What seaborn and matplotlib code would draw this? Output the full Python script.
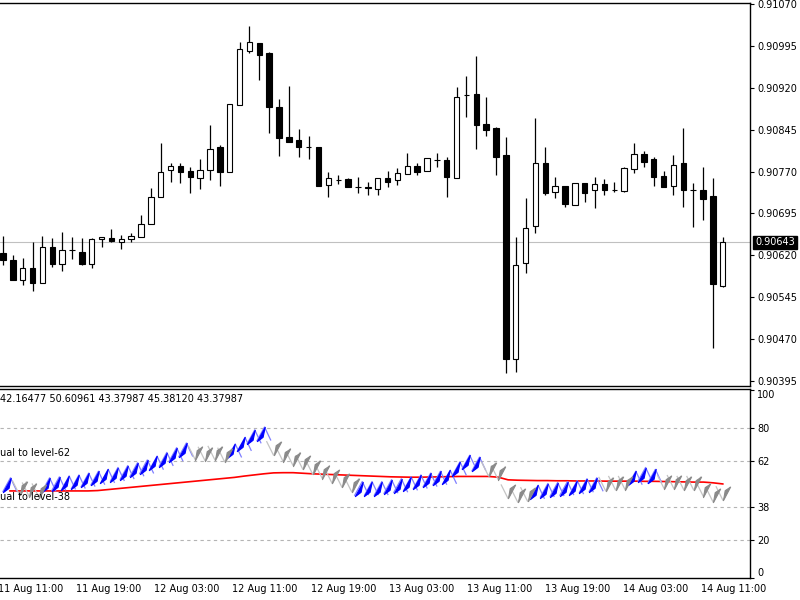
import matplotlib

matplotlib.use("Agg")
import matplotlib.pyplot as plt
import matplotlib.transforms as mtransforms
from matplotlib.path import Path
import numpy as np
import pandas as pd
import seaborn as sns

sns.set_style("white")
plt.rcParams["font.family"] = ["DejaVu Sans"]

# hourly candles, 11 Aug 12:00 .. 14 Aug 13:00
opens = [0.90624, 0.90612, 0.90576, 0.90597, 0.90571, 0.90635, 0.90605, 0.90630, 0.90626, 0.90605,
         0.90649, 0.90651, 0.90643, 0.90649, 0.90653, 0.90676, 0.90725, 0.90773, 0.90780, 0.90771,
         0.90759, 0.90773, 0.90814, 0.90769, 0.90889, 0.90986, 0.91000, 0.90982, 0.90886, 0.90832,
         0.90827, 0.90814, 0.90814, 0.90746, 0.90755, 0.90757, 0.90742, 0.90742, 0.90739, 0.90759,
         0.90755, 0.90766, 0.90780, 0.90771, 0.90791, 0.90791, 0.90759, 0.90907, 0.90909, 0.90855,
         0.90848, 0.90800, 0.90435, 0.90606, 0.90673, 0.90785, 0.90733, 0.90744, 0.90710, 0.90750,
         0.90737, 0.90748, 0.90737, 0.90735, 0.90775, 0.90801, 0.90793, 0.90762, 0.90744, 0.90785,
         0.90737, 0.90737, 0.90727, 0.90565]
highs = [0.90655, 0.90621, 0.90615, 0.90644, 0.90655, 0.90651, 0.90662, 0.90653, 0.90651, 0.90651,
         0.90653, 0.90667, 0.90657, 0.90660, 0.90692, 0.90741, 0.90821, 0.90785, 0.90785, 0.90778,
         0.90793, 0.90853, 0.90818, 0.90891, 0.91002, 0.91031, 0.91000, 0.90984, 0.90900, 0.90923,
         0.90846, 0.90834, 0.90814, 0.90769, 0.90764, 0.90759, 0.90760, 0.90751, 0.90759, 0.90771,
         0.90776, 0.90803, 0.90785, 0.90794, 0.90803, 0.90796, 0.90921, 0.90941, 0.90977, 0.90904,
         0.90850, 0.90832, 0.90653, 0.90723, 0.90866, 0.90814, 0.90760, 0.90744, 0.90750, 0.90750,
         0.90760, 0.90757, 0.90751, 0.90778, 0.90821, 0.90807, 0.90796, 0.90771, 0.90800, 0.90848,
         0.90750, 0.90778, 0.90759, 0.90653]
lows = [0.90603, 0.90576, 0.90567, 0.90556, 0.90571, 0.90599, 0.90592, 0.90614, 0.90603, 0.90597,
        0.90635, 0.90643, 0.90631, 0.90643, 0.90653, 0.90676, 0.90725, 0.90751, 0.90750, 0.90732,
        0.90739, 0.90755, 0.90744, 0.90769, 0.90889, 0.90982, 0.90934, 0.90839, 0.90798, 0.90823,
        0.90796, 0.90793, 0.90744, 0.90725, 0.90748, 0.90742, 0.90732, 0.90728, 0.90728, 0.90742,
        0.90746, 0.90766, 0.90764, 0.90771, 0.90778, 0.90725, 0.90759, 0.90868, 0.90810, 0.90834,
        0.90764, 0.90409, 0.90411, 0.90588, 0.90660, 0.90728, 0.90723, 0.90707, 0.90710, 0.90716,
        0.90705, 0.90728, 0.90733, 0.90733, 0.90767, 0.90778, 0.90744, 0.90742, 0.90728, 0.90707,
        0.90671, 0.90683, 0.90454, 0.90563]
closes = [0.90612, 0.90576, 0.90597, 0.90571, 0.90635, 0.90605, 0.90630, 0.90630, 0.90605, 0.90649,
          0.90653, 0.90646, 0.90649, 0.90655, 0.90676, 0.90725, 0.90769, 0.90780, 0.90769, 0.90760,
          0.90773, 0.90810, 0.90769, 0.90891, 0.90989, 0.91002, 0.90979, 0.90886, 0.90830, 0.90823,
          0.90814, 0.90814, 0.90744, 0.90759, 0.90755, 0.90742, 0.90742, 0.90741, 0.90759, 0.90751,
          0.90767, 0.90780, 0.90769, 0.90794, 0.90791, 0.90760, 0.90904, 0.90907, 0.90853, 0.90844,
          0.90796, 0.90435, 0.90603, 0.90669, 0.90785, 0.90732, 0.90744, 0.90712, 0.90750, 0.90732,
          0.90748, 0.90737, 0.90737, 0.90776, 0.90801, 0.90787, 0.90760, 0.90742, 0.90782, 0.90737,
          0.90737, 0.90721, 0.90569, 0.90643]
current_price = 0.90643
price_ticks = [0.91070, 0.90995, 0.90920, 0.90845, 0.90770, 0.90695, 0.90620, 0.90545, 0.90470, 0.90395]

# indicator window
osc = [49.5, 48, 47, 46.5, 49.5, 50, 50.5, 51, 52, 53,
       54, 55, 56, 57.5, 59, 61, 63, 65.5, 68, 66.5,
       66, 66.5, 65.5, 67.5, 71, 75, 76.5, 69, 65.5, 63.5,
       61.5, 59, 56.5, 54, 52, 49.5, 47.5, 47.5, 47.5, 48.5,
       49, 50, 51, 52, 53, 53.5, 58, 61.5, 60.5, 58,
       56, 46, 44, 44.5, 45.5, 46.5, 47, 47.5, 48, 49,
       49.5, 50, 50.5, 50.5, 53, 55, 54, 51, 51, 50.5,
       50.5, 47, 44, 45]
osc_dir = (["up"] + ["down"] * 3 + ["up"] * 15 + ["down"] * 4 + ["up"] * 4 + ["down"] * 9
           + ["up"] * 13 + ["down"] * 5 + ["up"] * 7 + ["down"] * 3 + ["up"] * 3 + ["down"] * 7)
signal = [46.3, 46.3, 46.3, 46.3, 46.3, 46.3, 46.3, 46.3, 46.3, 46.5,
          47, 47.5, 48, 48.5, 49, 49.5, 50, 50.5, 51, 51.5,
          52, 52.5, 53, 53.5, 54.2, 54.8, 55.4, 55.9, 56, 56,
          55.7, 55.4, 55.2, 55, 54.8, 54.6, 54.4, 54.2, 54, 53.8,
          53.7, 53.6, 53.6, 53.7, 53.8, 53.9, 54, 54, 54, 54,
          53.6, 52.2, 52, 51.9, 51.8, 51.8, 51.7, 51.7, 51.6, 51.6,
          51.6, 51.5, 51.5, 51.5, 51.5, 51.4, 51.4, 51.3, 51.2, 51.1,
          51, 51, 50.6, 50]
levels = [80, 62, 38, 20]
osc_ticks = [0, 20, 38, 62, 80, 100]
header = "42.16477 50.60961 43.37987 45.38120 43.37987"

time_labels = ["11 Aug 11:00", "11 Aug 19:00", "12 Aug 03:00", "12 Aug 11:00", "12 Aug 19:00",
               "13 Aug 03:00", "13 Aug 11:00", "13 Aug 19:00", "14 Aug 03:00", "14 Aug 11:00"]
time_bars = [-1, 7, 15, 23, 31, 39, 47, 55, 63, 71]

df = pd.DataFrame({"open": opens, "high": highs, "low": lows, "close": closes})
df["bar"] = np.arange(len(df))
ind = pd.DataFrame({"bar": np.arange(len(osc)), "osc": osc, "dir": osc_dir, "signal": signal})

W, H = 800, 600
fig = plt.figure(figsize=(8, 6), dpi=100)
ax = fig.add_axes([0, 1 - 386 / H, 750 / W, 383 / H])
ax2 = fig.add_axes([0, 1 - 578 / H, 750 / W, 189 / H])

xlim = (-0.3, 75.76)

# --- candles
up = df["close"] >= df["open"]
ax.axhline(current_price, color="#c0c0c0", lw=0.8, zorder=0)
ax.vlines(df["bar"], df["low"], df["high"], color="black", lw=0.9, zorder=1)
body_lo = df[["open", "close"]].min(axis=1)
body_h = (df["close"] - df["open"]).abs()
ax.bar(df["bar"], body_h, bottom=body_lo, width=0.55,
       color=np.where(up, "white", "black"), edgecolor="black", linewidth=0.8, zorder=2)
ax.set_xlim(*xlim)
ax.set_ylim(0.903860, 0.910718)
ax.set_xticks([])
ax.yaxis.tick_right()
ax.set_yticks(price_ticks)
ax.set_yticklabels([f"{p:.5f}" for p in price_ticks])
ax.tick_params(axis="y", direction="out", length=3, width=0.8, pad=2, labelsize=7, colors="black")
for side in ["top", "right", "bottom"]:
    ax.spines[side].set_color("black")
    ax.spines[side].set_linewidth(1.0)
ax.spines["left"].set_visible(False)

tr = mtransforms.blended_transform_factory(ax.transAxes, ax.transData)
ax.text(1.0, current_price, f"{current_price:.5f}",
        transform=mtransforms.offset_copy(tr, fig=fig, x=5, y=0, units="dots"),
        ha="left", va="center", fontsize=7, color="white",
        bbox=dict(boxstyle="square,pad=0.2", fc="black", ec="black"))

# --- indicator
for lv in levels:
    ax2.axhline(lv, color="#b4b4b4", lw=0.8, linestyle=(0, (3, 3)), zorder=0)

sns.lineplot(data=ind, x="bar", y="signal", color="#ff0000", lw=1.2, ax=ax2, zorder=2)

M, L = Path.MOVETO, Path.LINETO
up_outline = Path([(-0.5, -0.5), (0.05, 0.5), (0.5, -0.45)], [M, L, L])
up_fill = Path([(-0.5, -0.5), (0.05, 0.5), (-0.1, -0.2), (-0.5, -0.5)], [M, L, L, Path.CLOSEPOLY])
dn_outline = Path([(-0.5, 0.5), (0.0, -0.5), (0.5, 0.45)], [M, L, L])
dn_fill = Path([(0.5, 0.45), (0.0, -0.5), (0.12, 0.2), (0.5, 0.45)], [M, L, L, Path.CLOSEPOLY])

rise = ind[ind["dir"] == "up"]
fall = ind[ind["dir"] == "down"]
msize = 105
sns.scatterplot(data=rise, x="bar", y="osc", marker=up_outline, s=msize, facecolors="none",
                edgecolors="#7f7fff", linewidths=0.9, ax=ax2, zorder=3)
sns.scatterplot(data=rise, x="bar", y="osc", marker=up_fill, s=msize, color="#0000ff",
                edgecolor="#0000ff", linewidth=0.8, ax=ax2, zorder=4)
sns.scatterplot(data=fall, x="bar", y="osc", marker=dn_outline, s=msize, facecolors="none",
                edgecolors="#c4c4c4", linewidths=0.9, ax=ax2, zorder=3)
sns.scatterplot(data=fall, x="bar", y="osc", marker=dn_fill, s=msize, color="#8a8a8a",
                edgecolor="#8a8a8a", linewidth=0.8, ax=ax2, zorder=4)

ax2.set_xlim(*xlim)
ax2.set_ylim(0, 100.5)
ax2.set_xlabel("")
ax2.set_ylabel("")
ax2.yaxis.tick_right()
ax2.set_yticks(osc_ticks)
ax2.set_yticklabels([str(t) for t in osc_ticks])
ax2.tick_params(axis="y", direction="out", length=3, width=0.8, pad=2, labelsize=7, colors="black")
for lbl, t in zip(ax2.get_yticklabels(), osc_ticks):
    if t == 0:
        lbl.set_va("bottom")
    elif t == 100:
        lbl.set_va("top")
ax2.set_xticks(time_bars)
ax2.set_xticklabels([""] * len(time_bars))
ax2.tick_params(axis="x", direction="out", length=4, width=0.8, colors="black")
for side in ["top", "right", "bottom"]:
    ax2.spines[side].set_color("black")
    ax2.spines[side].set_linewidth(1.0)
ax2.spines["left"].set_visible(False)

trx = mtransforms.blended_transform_factory(ax2.transData, ax2.transAxes)
trx = mtransforms.offset_copy(trx, fig=fig, x=-2, y=-6, units="dots")
for b, lab in zip(time_bars, time_labels):
    ax2.text(b, 0, lab, transform=trx, ha="left", va="top", fontsize=7, color="black", clip_on=False)

fig.text(0, 1 - 399 / H, header, ha="left", va="center", fontsize=7, color="black")
fig.text(0, 1 - 453 / H, "ual to level-62", ha="left", va="center", fontsize=7, color="black")
fig.text(0, 1 - 497 / H, "ual to level-38", ha="left", va="center", fontsize=7, color="black")

fig.savefig("out.png", dpi=100, facecolor="white")
